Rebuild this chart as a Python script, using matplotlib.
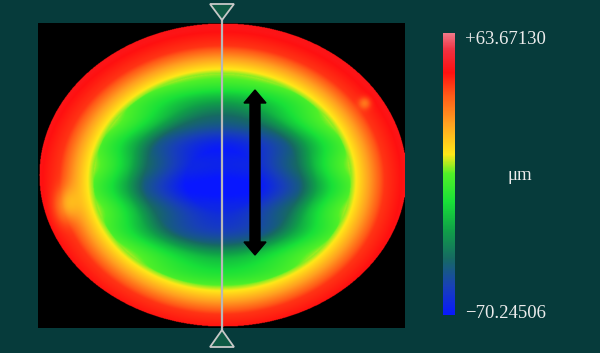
import numpy as np
import matplotlib
matplotlib.use("Agg")
import matplotlib.pyplot as plt
from matplotlib.colors import LinearSegmentedColormap
from matplotlib.patches import Polygon

# ---- data ----
z_max = 63.67130
z_min = -70.24506
unit_label = "μm"
# radial profile of the surface (normalised elliptical radius -> fraction of range)
profile_r = [0.0, 0.2, 0.42, 0.52, 0.6, 0.69, 0.73, 0.8, 0.885, 1.0, 1.3]
profile_t = [0.0, 0.02, 0.18, 0.33, 0.42, 0.50, 0.57, 0.68, 0.82, 0.87, 0.87]
# local bumps: (x, y, sigma_x, sigma_y, delta fraction)
bumps_x = [66, 365]
bumps_y = [205, 103]
bumps_sx = [8, 4]
bumps_sy = [12, 4]
bumps_dt = [-0.12, -0.10]

# colormap stops (fraction, colour)
cmap_pos = [0.0, 0.10, 0.20, 0.30, 0.40, 0.50, 0.57, 0.68, 0.78, 0.86, 0.94, 1.0]
cmap_col = ["#0818ff", "#1840b8", "#166a62", "#10a048", "#18e038", "#50f028",
            "#ffe818", "#ffa020", "#ff5a18", "#ff1010", "#f03040", "#f07888"]

BG = "#063b3b"
W, H = 600, 353

fig = plt.figure(figsize=(W / 100, H / 100), dpi=100, facecolor=BG)

# overlay axes in pixel coordinates
ov = fig.add_axes([0, 0, 1, 1], facecolor=BG)
ov.set_xlim(0, W)
ov.set_ylim(H, 0)
ov.axis("off")

# main map axes: black rectangle x 38..405, y 23..328
rx0, rx1, ry0, ry1 = 38, 405, 23, 328
ax = fig.add_axes([rx0 / W, 1 - ry1 / H, (rx1 - rx0) / W, (ry1 - ry0) / H])
ax.set_facecolor("black")
ax.set_xlim(rx0, rx1)
ax.set_ylim(ry1, ry0)
ax.axis("off")
ax.add_patch(plt.Rectangle((rx0, ry0), rx1 - rx0, ry1 - ry0, color="black", zorder=0))

cmap = LinearSegmentedColormap.from_list("surf", list(zip(cmap_pos, cmap_col)), N=512)

# surface field
ell_cx, ell_cy, ell_rx, ell_ry = 223, 175, 184, 152
fld_cx, fld_cy = 222, 180
xs = np.linspace(rx0, rx1, 734)
ys = np.linspace(ry0, ry1, 610)
X, Y = np.meshgrid(xs, ys)
r = np.sqrt(((X - fld_cx) / ell_rx) ** 2 + ((Y - fld_cy) / ell_ry) ** 2)
t = np.interp(r, profile_r, profile_t)
for bx, by, sx, sy, dt in zip(bumps_x, bumps_y, bumps_sx, bumps_sy, bumps_dt):
    t = t + dt * np.exp(-((X - bx) ** 2 / (2 * sx ** 2) + (Y - by) ** 2 / (2 * sy ** 2)))
# faint horizontal scan banding
t = t + 0.02 * np.sin((Y - ry0) / 7.0) * (r < 0.7)
Z = z_min + np.clip(t, 0, 1) * (z_max - z_min)
inside = ((X - ell_cx) / ell_rx) ** 2 + ((Y - ell_cy) / ell_ry) ** 2 <= 1
Zm = np.ma.masked_where(~inside, Z)
im = ax.imshow(Zm, cmap=cmap, vmin=z_min, vmax=z_max, extent=(rx0, rx1, ry1, ry0),
               origin="upper", interpolation="bilinear", zorder=1)

# double-headed black arrow
arr_x, arr_y0, arr_y1 = 255, 90, 255
shaft_w, head_w, head_l = 10, 22, 13
pts = [
    (arr_x, arr_y0), (arr_x + head_w / 2, arr_y0 + head_l), (arr_x + shaft_w / 2, arr_y0 + head_l),
    (arr_x + shaft_w / 2, arr_y1 - head_l), (arr_x + head_w / 2, arr_y1 - head_l), (arr_x, arr_y1),
    (arr_x - head_w / 2, arr_y1 - head_l), (arr_x - shaft_w / 2, arr_y1 - head_l),
    (arr_x - shaft_w / 2, arr_y0 + head_l), (arr_x - head_w / 2, arr_y0 + head_l),
]
ax.add_patch(Polygon(pts, closed=True, color="black", zorder=5))

# vertical section line with triangle handles (figure pixel coords)
line_x = 222
ov2 = fig.add_axes([0, 0, 1, 1])
ov2.set_xlim(0, W)
ov2.set_ylim(H, 0)
ov2.axis("off")
ov2.patch.set_alpha(0)
ov2.plot([line_x, line_x], [8, 345], color="#b8b8b8", lw=1.6, zorder=3)
tri_half = 12
ov2.add_patch(Polygon([(line_x - tri_half, 4), (line_x + tri_half, 4), (line_x, 20)], closed=True,
                      facecolor="#0f5a45", edgecolor="#c8c8c8", lw=1.3, zorder=4))
ov2.add_patch(Polygon([(line_x - tri_half, 347), (line_x + tri_half, 347), (line_x, 330)], closed=True,
                      facecolor="#0f5a45", edgecolor="#c8c8c8", lw=1.3, zorder=4))

# colour bar
cb_x0, cb_x1, cb_y0, cb_y1 = 443, 455, 33, 315
cax = fig.add_axes([cb_x0 / W, 1 - cb_y1 / H, (cb_x1 - cb_x0) / W, (cb_y1 - cb_y0) / H])
cb = fig.colorbar(im, cax=cax)
cb.set_ticks([])
cb.outline.set_visible(False)

txt_color = "#ececec"
fam = ["Liberation Serif", "DejaVu Serif"]
fig.text(465 / W, 1 - 39 / H, f"+{z_max:.5f}", color=txt_color, fontsize=13.5,
         family=fam, ha="left", va="center")
fig.text(465 / W, 1 - 313 / H, f"\u2212{abs(z_min):.5f}", color=txt_color, fontsize=13.5,
         family=fam, ha="left", va="center")
fig.text(520 / W, 1 - 176 / H, unit_label, color=txt_color, fontsize=13.5,
         family=fam, ha="center", va="center")

fig.savefig("out.png", dpi=100, facecolor=BG)
